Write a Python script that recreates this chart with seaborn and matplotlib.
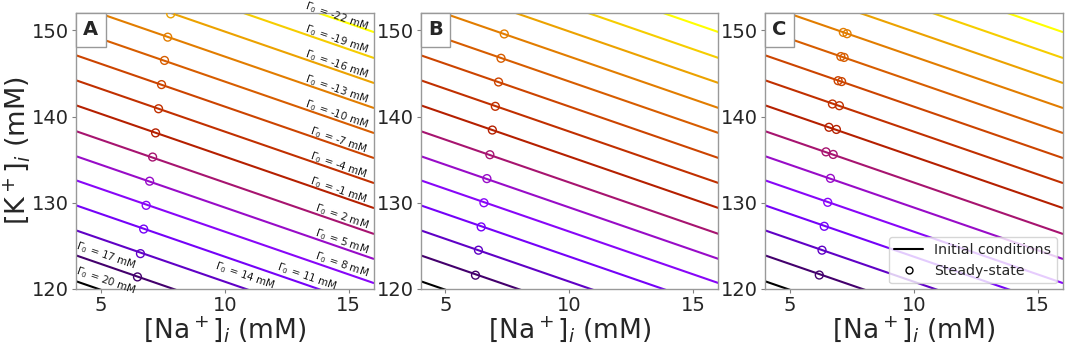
import numpy as np
import pandas as pd
import matplotlib
matplotlib.use("Agg")
import matplotlib.pyplot as plt
from matplotlib.lines import Line2D
from matplotlib.offsetbox import AnchoredText
import seaborn as sns

sns.set_theme(style="ticks")
plt.rcParams['font.family'] = ['DejaVu Sans']

# --- DATA: initial-condition lines (one per Gamma_0), K_i at Na_i = 4 and 16 ---
gamma0 = [20, 17, 14, 11, 8, 5, 2, -1, -4, -7, -10, -13, -16, -19, -22]
na_ends = [4, 16]
k_at_na4 = [120.9, 123.9, 126.8, 129.7, 132.6, 135.4, 138.3, 141.3, 144.2,
            147.1, 150.0, 152.9, 155.8, 158.7, 161.7]
k_at_na16 = [109.0, 112.0, 114.9, 117.8, 120.7, 123.5, 126.4, 129.4, 132.3,
             135.2, 138.1, 141.0, 143.9, 146.8, 149.8]

# --- steady states per panel ---
ss_a_gamma = [17, 14, 11, 8, 5, 2, -1, -4, -7, -10, -13, -16]
ss_a_na = [6.48, 6.60, 6.73, 6.83, 6.97, 7.09, 7.21, 7.33, 7.45, 7.57, 7.70, 7.82]
ss_a_k = [121.4, 124.1, 126.95, 129.7, 132.5, 135.3, 138.1, 140.9, 143.7,
          146.5, 149.2, 151.9]

ss_b_gamma = [17, 14, 11, 8, 5, 2, -1, -4, -7, -10, -13]
ss_b_na = [6.21, 6.33, 6.44, 6.55, 6.67, 6.79, 6.89, 7.01, 7.14, 7.24, 7.37]
ss_b_k = [121.6, 124.5, 127.2, 130.0, 132.8, 135.57, 138.43, 141.18, 144.0,
          146.75, 149.57]

ss_c_gamma = [17, 14, 11, 8, 5, 2, 2, -1, -1, -4, -4, -7, -7, -10, -10, -13, -13]
ss_c_na = [6.19, 6.30, 6.39, 6.53, 6.64, 6.46, 6.75, 6.58, 6.88, 6.72, 7.00,
           6.95, 7.09, 7.06, 7.19, 7.16, 7.31]
ss_c_k = [121.62, 124.5, 127.27, 130.05, 132.83, 135.9, 135.6, 138.75, 138.5,
          141.45, 141.25, 144.15, 144.05, 146.95, 146.85, 149.75, 149.6]

panel_letters = ['A', 'B', 'C']
x_ticks = [5, 10, 15]
y_ticks = [120, 130, 140, 150]

# contour label layout (panel A): Na position of label centre and shift in K
label_na = [5.2, 5.2, 10.8, 13.3, 14.7, 14.7, 14.7, 14.6, 14.6, 14.6,
            14.5, 14.5, 14.5, 14.5, 14.5]
label_dk = [1.2, 1.1, 1.5, 0.9, 0.8, 0.7, 0.7, 0.7, 0.7, 0.7,
            0.7, 0.7, 0.7, 0.7, 0.35]

# --- colours: gnuplot colormap, black for Gamma_0=20 -> yellow for -22 ---
cmap = plt.get_cmap('gnuplot')
vals = np.linspace(0, 1, len(gamma0))
palette = {g: cmap(v) for g, v in zip(gamma0, vals)}

df_lines = pd.DataFrame({
    'gamma': np.repeat(gamma0, 2),
    'na': na_ends * len(gamma0),
    'k': np.ravel(np.column_stack([k_at_na4, k_at_na16])),
})

steady = [(ss_a_gamma, ss_a_na, ss_a_k),
          (ss_b_gamma, ss_b_na, ss_b_k),
          (ss_c_gamma, ss_c_na, ss_c_k)]

fig = plt.figure(figsize=(10.65, 3.44), dpi=100)
lefts = [76 / 1065, 420.7 / 1065, 765 / 1065]
axes = [fig.add_axes([l, 55 / 344, 297.5 / 1065, 276 / 344]) for l in lefts]

for i, ax in enumerate(axes):
    sns.lineplot(data=df_lines, x='na', y='k', hue='gamma', palette=palette,
                 estimator=None, sort=False, legend=False, lw=1.5, ax=ax)
    g, na, k = steady[i]
    ax.scatter(na, k, s=32, facecolors='none',
               edgecolors=[palette[v] for v in g], linewidths=1.0, zorder=3)

    ax.set_xlim(4, 16)
    ax.set_ylim(120, 152)
    ax.set_xticks(x_ticks)
    ax.set_yticks(y_ticks)
    ax.tick_params(labelsize=14, length=3, width=0.8, color='0.5', pad=2)
    for sp in ax.spines.values():
        sp.set_color('0.6')
        sp.set_linewidth(1.0)
    ax.set_xlabel(r'[Na$^+$]$_i$ (mM)', fontsize=19, labelpad=0)
    ax.set_ylabel('')
    at = AnchoredText(panel_letters[i], loc='upper left', frameon=True,
                      pad=0.38, borderpad=0,
                      prop=dict(fontsize=14, fontweight='bold'))
    at.patch.set_boxstyle('square,pad=0')
    at.patch.set_edgecolor('0.6')
    at.patch.set_linewidth(1.0)
    at.zorder = 5
    ax.add_artist(at)

axes[0].set_ylabel(r'[K$^+$]$_i$ (mM)', fontsize=19.5, labelpad=0)

# contour-style labels on panel A
ax = axes[0]
for g, k4, k16, lx, dk in zip(gamma0, k_at_na4, k_at_na16, label_na, label_dk):
    ly = np.interp(lx, na_ends, [k4, k16]) + dk
    p1 = ax.transData.transform((na_ends[0], k4))
    p2 = ax.transData.transform((na_ends[1], k16))
    ang = np.degrees(np.arctan2(p2[1] - p1[1], p2[0] - p1[0]))
    ax.text(lx, ly, r'$\mathit{\Gamma}_0$ = %d mM' % g, rotation=ang,
            rotation_mode='anchor', ha='center', va='center', fontsize=7.5,
            color='0.1', clip_on=False, zorder=4)

handles = [Line2D([], [], color='black', lw=1.5, label='Initial conditions'),
           Line2D([], [], color='black', lw=0, marker='o', markersize=5,
                  markerfacecolor='none', label='Steady-state')]
axes[2].legend(handles=handles, loc='lower right', fontsize=10.2,
               frameon=True, framealpha=0.8, borderaxespad=0.4)

fig.savefig('out.png', dpi=100)
